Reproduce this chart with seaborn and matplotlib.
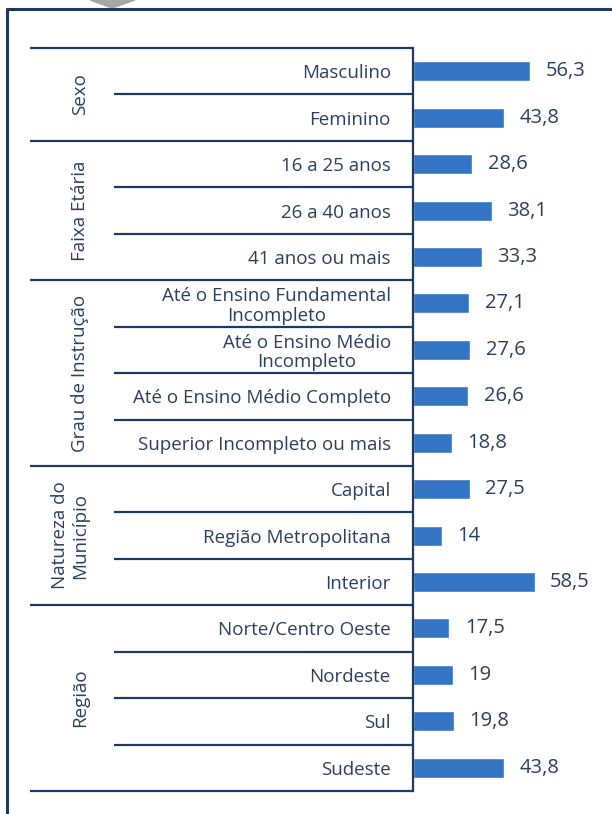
import matplotlib
matplotlib.use("Agg")
import matplotlib.pyplot as plt
import matplotlib.transforms as mtransforms
from matplotlib.patches import Polygon
import seaborn as sns
import pandas as pd

# ---- data ----
categories = [
    "Masculino", "Feminino",
    "16 a 25 anos", "26 a 40 anos", "41 anos ou mais",
    "Até o Ensino Fundamental\nIncompleto", "Até o Ensino Médio\nIncompleto",
    "Até o Ensino Médio Completo", "Superior Incompleto ou mais",
    "Capital", "Região Metropolitana", "Interior",
    "Norte/Centro Oeste", "Nordeste", "Sul", "Sudeste",
]
values = [56.3, 43.8, 28.6, 38.1, 33.3, 27.1, 27.6, 26.6, 18.8,
          27.5, 14, 58.5, 17.5, 19, 19.8, 43.8]
group_names = ["Sexo", "Faixa Etária", "Grau de Instrução",
               "Natureza do\nMunicípio", "Região"]
group_sizes = [2, 3, 4, 3, 4]

df = pd.DataFrame({"categoria": categories, "valor": values})

BAR = "#3474c4"
NAVY = "#1f3a60"
TEXT = "#2b3f5e"
FONT = ["Open Sans", "DejaVu Sans"]

sns.set_theme(style="white")
plt.rcParams["font.family"] = FONT

W, H = 612, 814
fig = plt.figure(figsize=(W / 100, H / 100), dpi=100)

def fx(px):
    return px / W

def fy(py):
    return 1 - py / H

# axes: left spine at x=413px, rows between y=48px and y=791px
ax_left, ax_right = 413, 600
ax_top, ax_bot = 48, 791
ax = fig.add_axes([fx(ax_left), fy(ax_bot), fx(ax_right - ax_left),
                   (ax_bot - ax_top) / H])

sns.barplot(data=df, y="categoria", x="valor", orient="h", color=BAR,
            width=0.43, saturation=1, ax=ax)
ax.set_xlim(0, (ax_right - ax_left) / 2.08)
ax.set_ylim(len(categories) - 0.5, -0.5)
ax.set_xlabel("")
ax.set_ylabel("")
ax.set_xticks([])
for s in ["top", "right", "bottom"]:
    ax.spines[s].set_visible(False)
ax.spines["left"].set_color(NAVY)
ax.spines["left"].set_linewidth(1.6)
ax.tick_params(axis="y", length=0, pad=16)
for lab in ax.get_yticklabels():
    lab.set_fontsize(13.5)
    lab.set_color(TEXT)
    lab.set_multialignment("center")
    lab.set_linespacing(1.1)

labels = [f"{v:g}".replace(".", ",") for v in values]
ax.bar_label(ax.containers[0], labels=labels, padding=11,
             fontsize=14.5, color=TEXT)

# table rules
trans = mtransforms.blended_transform_factory(fig.transFigure, ax.transData)
starts = set()
acc = 0
for n in group_sizes:
    starts.add(acc)
    acc += n
starts.add(acc)
for i in range(len(categories) + 1):
    x0 = 30 if i in starts else 114
    ax.plot([fx(x0), fx(ax_left)], [i - 0.5, i - 0.5], transform=trans,
            color=NAVY, lw=1.6, clip_on=False, solid_capstyle="butt")

# group labels
acc = 0
for name, n in zip(group_names, group_sizes):
    yc = acc + (n - 1) / 2
    xc = 70 if "\n" in name else 80
    ax.text(fx(xc), yc, name, transform=trans, rotation=90, ha="center",
            va="center", fontsize=13.5, color=TEXT, multialignment="center",
            linespacing=1.1)
    acc += n

# outer frame and marker triangle
fig.add_artist(plt.Line2D([fx(7), fx(7)], [fy(9), 0], color=NAVY, lw=2.2,
                          transform=fig.transFigure))
fig.add_artist(plt.Line2D([fx(7), 1], [fy(9), fy(9)], color=NAVY, lw=2.2,
                          transform=fig.transFigure))
fig.add_artist(Polygon([[fx(90), 1], [fx(135), 1], [fx(112), fy(8)]],
                       closed=True, color="#a6a6a6",
                       transform=fig.transFigure))

fig.savefig("out.png", dpi=100)
